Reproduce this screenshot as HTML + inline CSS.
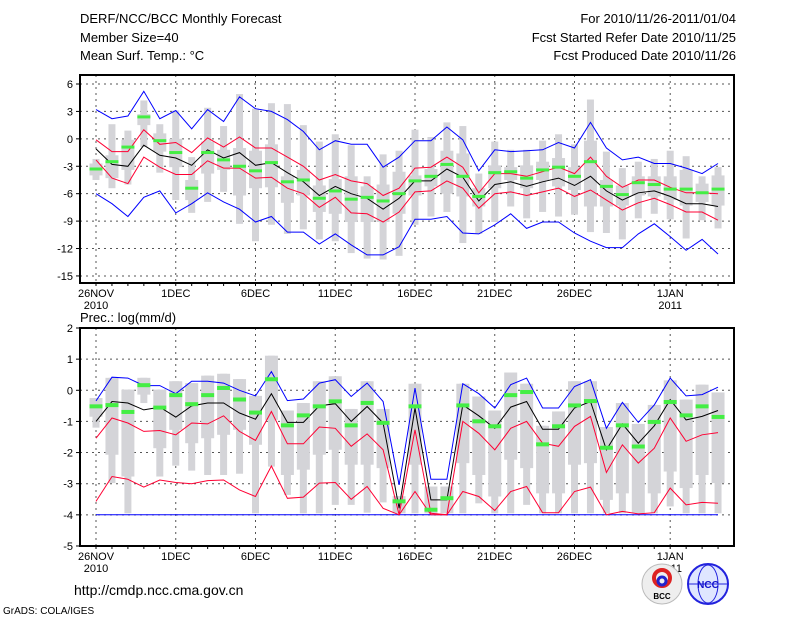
<!DOCTYPE html>
<html><head><meta charset="utf-8"><style>
html,body{margin:0;padding:0;background:#fff;width:800px;height:618px;overflow:hidden}
svg{display:block;font-family:"Liberation Sans",sans-serif}
</style></head><body>
<svg id="chart" width="800" height="618" viewBox="0 0 800 618" xmlns="http://www.w3.org/2000/svg">
<g font-size="13" fill="#000">
<text x="80" y="23">DERF/NCC/BCC Monthly Forecast</text>
<text x="80" y="42">Member Size=40</text>
<text x="80" y="60">Mean Surf. Temp.: °C</text>
<text x="736" y="23" text-anchor="end">For 2010/11/26-2011/01/04</text>
<text x="736" y="42" text-anchor="end">Fcst Started Refer Date 2010/11/25</text>
<text x="736" y="60" text-anchor="end">Fcst Produced Date 2010/11/26</text>
<text x="80" y="322">Prec.: log(mm/d)</text>
</g>
<g id="top"></g>
<g id="bot"></g>
<text x="74" y="595" font-size="14">http://cmdp.ncc.cma.gov.cn</text>
<text x="3" y="614" font-size="10">GrADS: COLA/IGES</text>
<g>
<circle cx="662" cy="584" r="20" fill="#eee" stroke="#bbb"/>
<circle cx="662" cy="578" r="8" fill="none" stroke="#d22" stroke-width="4"/>
<circle cx="662" cy="581" r="4" fill="none" stroke="#22c" stroke-width="3"/>
<text x="662" y="599" font-size="8" text-anchor="middle" font-weight="bold">BCC</text>
</g>
<g>
<circle cx="708" cy="584" r="20" fill="#dfe6ff" stroke="#22d" stroke-width="2"/>
<ellipse cx="708" cy="584" rx="10" ry="19" fill="none" stroke="#22d"/>
<line x1="689" y1="584" x2="727" y2="584" stroke="#22d"/>
<text x="708" y="588" font-size="10" text-anchor="middle" fill="#11c" font-weight="bold">NCC</text>
</g>
</svg>
<script>
// Temperature panel data (40 days from 2010-11-26)
const tBlueHi=[3.2,2.2,2.5,5.2,2.2,3.1,1.1,3.2,1.9,4.6,3.3,3.0,2.1,0.8,-1.2,-0.2,-0.6,-0.6,-3.1,-2.0,-0.2,-0.2,1.3,-0.1,-3.5,-1.2,-1.4,-1.3,-1.2,-0.4,-1.0,1.8,-1.0,-2.3,-2.0,-2.7,-2.7,-3.2,-3.8,-2.7];
const tRedHi=[-0.1,-1.4,-1.4,1.0,-0.6,-0.4,-1.5,0.1,-0.9,0.2,-1.0,-1.0,-2.0,-3.0,-4.5,-3.9,-4.6,-4.9,-6.2,-5.4,-3.2,-3.1,-2.0,-3.1,-5.9,-3.8,-3.8,-4.1,-3.6,-3.1,-3.8,-2.0,-4.1,-5.3,-4.5,-4.5,-5.3,-5.9,-5.9,-6.0];
const tMean=[-1.1,-2.8,-3.0,-0.7,-1.8,-2.1,-2.9,-1.2,-2.1,-1.5,-2.9,-2.6,-3.7,-4.7,-6.2,-5.2,-6.0,-6.5,-7.7,-6.5,-4.6,-4.6,-3.3,-4.2,-6.8,-5.0,-4.7,-5.2,-4.7,-4.3,-5.1,-4.1,-5.7,-6.7,-5.9,-5.7,-6.3,-7.1,-7.1,-7.4];
const tRedLo=[-2.3,-4.3,-4.9,-2.0,-3.1,-3.9,-3.9,-2.4,-3.2,-3.2,-4.3,-4.2,-5.4,-6.0,-7.5,-6.4,-8.1,-8.2,-9.1,-8.0,-5.8,-5.7,-4.6,-5.4,-7.6,-6.0,-5.8,-6.2,-5.8,-5.4,-6.3,-5.6,-6.7,-7.8,-7.0,-6.5,-7.2,-8.0,-8.0,-8.9];
const tBlueLo=[-6.0,-7.1,-8.5,-6.4,-5.7,-8.1,-7.1,-5.9,-6.9,-7.7,-9.1,-8.5,-10.2,-10.2,-11.5,-10.4,-11.6,-12.7,-12.7,-11.8,-8.8,-8.8,-8.5,-10.3,-10.4,-9.4,-8.2,-9.8,-9.1,-9.1,-10.3,-11.2,-11.9,-11.9,-10.4,-9.3,-10.7,-12.2,-11.0,-12.6];
const tGreen=[-3.3,-2.5,-0.9,2.4,-0.2,-1.5,-5.4,-1.5,-2.3,-3.0,-3.5,-2.6,-4.7,-4.5,-6.5,-5.7,-6.6,-6.4,-6.8,-6.0,-4.6,-4.1,-2.8,-4.1,-6.3,-3.7,-3.6,-4.3,-3.4,-3.1,-4.1,-2.5,-5.2,-6.1,-4.8,-5.0,-5.5,-5.5,-5.9,-5.5];
const tOutHi=[-2.2,1.6,0.9,4.2,1.6,3.1,-2.0,3.4,1.4,4.9,3.3,3.9,3.8,1.5,-0.3,0.5,-0.7,-4.1,-1.7,-1.3,1.0,0.2,1.8,1.4,-3.8,-0.3,-1.2,-1.2,-0.2,0.5,-0.6,4.3,-1.4,-3.2,-2.5,-2.2,-1.3,-1.9,-4.1,-3.1];
const tOutLo=[-4.5,-5.4,-5.0,-0.9,-3.7,-6.7,-8.1,-6.9,-5.8,-9.3,-11.2,-9.4,-10.4,-9.9,-11.0,-11.2,-12.5,-13.1,-13.2,-12.8,-9.4,-8.5,-8.0,-11.4,-10.4,-9.1,-7.4,-8.7,-8.0,-8.5,-8.3,-10.2,-10.3,-11.0,-8.7,-8.2,-8.8,-10.9,-8.9,-9.8];
const tBoxHi=[-2.7,-1.8,-0.1,2.7,0.6,0.0,-4.5,-0.3,-1.2,-1.0,-1.3,-0.6,-4.1,-3.4,-5.1,-4.4,-4.1,-5.2,-5.0,-3.6,-4.0,-3.3,-1.3,-1.6,-5.4,-2.9,-3.1,-2.9,-2.5,-2.1,-3.1,-0.2,-4.5,-5.1,-4.1,-4.1,-4.1,-3.4,-4.9,-4.0];
const tBoxLo=[-4.0,-4.3,-3.4,1.5,-1.4,-3.1,-6.7,-3.8,-3.4,-6.2,-5.4,-5.3,-7.0,-6.2,-8.0,-8.2,-9.1,-9.1,-9.1,-8.2,-6.2,-5.2,-6.0,-6.3,-7.4,-5.4,-4.5,-5.4,-4.5,-5.2,-5.6,-7.4,-7.4,-7.3,-6.2,-6.3,-6.7,-7.3,-6.9,-7.3];
const tTicks=[6,3,0,-3,-6,-9,-12,-15];
// Precipitation panel data
const pBlueHi=[-0.34,0.42,0.39,0.15,0.15,-0.11,0.29,0.29,0.23,0.0,-0.18,0.6,-0.33,-0.28,0.23,0.34,-0.2,0.23,-0.36,-3.04,0.07,-2.86,-2.86,0.21,-0.11,-0.57,0.18,0.39,-0.57,-0.57,0.12,0.34,-1.22,-0.39,-1.03,-0.47,0.39,-0.18,-0.14,0.1];
const pMean=[-1.0,-0.36,-0.41,-0.63,-0.54,-0.86,-0.5,-0.41,-0.41,-0.73,-0.93,-0.11,-1.03,-1.03,-0.5,-0.43,-1.0,-0.52,-1.05,-3.79,-0.57,-3.52,-3.52,-0.47,-0.82,-1.22,-0.54,-0.36,-1.25,-1.25,-0.57,-0.36,-1.91,-1.08,-1.7,-1.14,-0.3,-0.95,-0.84,-0.65];
const pRedHi=[-1.54,-0.89,-1.05,-1.32,-1.29,-1.43,-1.05,-1.08,-0.82,-1.32,-1.61,-0.68,-1.72,-1.72,-1.18,-1.22,-1.8,-1.4,-1.91,-4.0,-1.27,-3.95,-4.0,-1.0,-1.38,-1.91,-1.22,-1.0,-1.7,-1.8,-1.16,-0.84,-2.64,-1.75,-2.34,-1.86,-0.89,-1.64,-1.43,-1.36];
const pRedLo=[-3.57,-2.77,-2.86,-3.11,-2.88,-2.96,-3.0,-2.9,-2.88,-3.2,-3.41,-2.43,-3.47,-3.43,-2.98,-2.96,-3.5,-3.09,-3.79,-4.0,-3.25,-4.0,-4.0,-3.25,-3.41,-3.86,-3.25,-3.09,-3.93,-3.93,-3.25,-3.11,-4.0,-3.89,-3.97,-3.93,-3.14,-3.68,-3.6,-3.63];
const pBlueLo=[-4,-4,-4,-4,-4,-4,-4,-4,-4,-4,-4,-4,-4,-4,-4,-4,-4,-4,-4,-4,-4,-4,-4,-4,-4,-4,-4,-4,-4,-4,-4,-4,-4,-4,-4,-4,-4,-4,-4,-4];
const pGreen=[-0.5,-0.46,-0.68,0.18,-0.54,-0.14,-0.43,-0.14,0.09,-0.28,-0.7,0.37,-1.11,-0.79,-0.5,-0.34,-1.11,-0.39,-1.03,-3.55,-0.5,-3.82,-3.45,-0.47,-0.98,-1.14,-0.14,-0.04,-1.72,-1.14,-0.47,-0.33,-1.83,-1.11,-1.79,-1.0,-0.36,-0.79,-0.5,-0.84];
const pOutHi=[-0.25,0.4,0.02,0.4,0.02,0.29,0.23,0.47,0.53,0.36,-0.18,1.11,-0.65,-0.41,0.29,0.45,-0.6,0.29,-0.6,-3.4,0.21,-3.09,-3.09,0.21,-0.2,-0.65,0.57,0.21,-1.14,-0.68,0.29,0.29,-1.18,-0.41,-1.08,-0.47,0.32,-0.3,0.18,-0.07];
const pOutLo=[-1.2,-2.98,-3.95,-0.41,-2.77,-2.42,-2.58,-2.72,-2.72,-2.68,-3.95,-2.45,-3.36,-3.95,-3.95,-3.68,-3.68,-3.93,-3.6,-3.95,-3.95,-3.95,-3.95,-3.95,-3.63,-3.95,-3.95,-3.68,-3.95,-3.95,-3.95,-3.95,-3.95,-3.95,-3.95,-3.95,-3.73,-3.95,-3.95,-3.95];
const pBoxLo=[-0.85,-2.07,-2.77,-0.14,-1.86,-1.27,-1.7,-1.54,-1.43,-1.27,-1.75,-0.95,-2.72,-2.55,-2.07,-1.91,-2.39,-2.39,-2.5,-3.95,-2.39,-3.95,-3.95,-2.34,-2.72,-3.41,-2.23,-2.5,-3.31,-3.31,-2.39,-2.34,-3.52,-3.31,-3.95,-3.31,-2.61,-3.14,-2.72,-2.98];
const pTicks=[2,1,0,-1,-2,-3,-4,-5];
const dayLabels=["26NOV","1DEC","6DEC","11DEC","16DEC","21DEC","26DEC","1JAN"];
const dayLabelIdx=[0,5,10,15,20,25,30,36];
const yearLabels=["2010","","","","","","","2011"];

const NS="http://www.w3.org/2000/svg";
const X0=80,X1=734,DX0=96,DDAY=15.95;
const xDay=i=>DX0+i*DDAY;
function el(p,t,a){const e=document.createElementNS(NS,t);for(const k in a)e.setAttribute(k,a[k]);p.appendChild(e);return e;}
function line(g,arr,y,color,name){
  const pts=arr.map((v,i)=>xDay(i).toFixed(1)+","+y(v).toFixed(1)).join(" ");
  const e=el(g,"polyline",{points:pts,fill:"none",stroke:color,"stroke-width":1});
  
  
}
function panel(g,top,bot,y,ticks,d){
  // grid
  ticks.forEach(t=>{const yy=y(t);
    if(yy>top+1&&yy<bot-1){const l=el(g,"line",{x1:X0,x2:X1,y1:yy,y2:yy,stroke:"#555","stroke-dasharray":"2,4","stroke-width":1});
    
    }
    const tx=el(g,"text",{x:73,y:yy+4,"font-size":11,"text-anchor":"end"});tx.textContent=t;
    
    
    el(g,"line",{x1:X0-4,x2:X0,y1:yy,y2:yy,stroke:"#000"});
  });
  dayLabelIdx.forEach((di,k)=>{const xx=xDay(di);
    const l=el(g,"line",{x1:xx,x2:xx,y1:top,y2:bot,stroke:"#555","stroke-dasharray":"2,4","stroke-width":1});
    
    
    const tx=el(g,"text",{x:xx,y:bot+14,"font-size":11,"text-anchor":"middle"});tx.textContent=dayLabels[k];
    
    
    if(yearLabels[k]){const ty=el(g,"text",{x:xx,y:bot+26,"font-size":11,"text-anchor":"middle"});ty.textContent=yearLabels[k];
    
    }
  });
  for(let i=0;i<40;i++){el(g,"line",{x1:xDay(i),x2:xDay(i),y1:bot,y2:bot+3,stroke:"#000"});}
  // boxes
  for(let i=0;i<40;i++){const xx=xDay(i);
    const o=el(g,"rect",{x:xx-3.5,y:y(d.oh[i]),width:7,height:Math.max(1,y(d.ol[i])-y(d.oh[i])),fill:"#d4d4d8"});
    
    
    const b=el(g,"rect",{x:xx-6.5,y:y(d.bh[i]),width:13,height:Math.max(1,y(d.bl[i])-y(d.bh[i])),fill:"#d4d4d8"});
    
    
  }
  line(g,d.blo,y,"#0000ff","min-line");
  line(g,d.rlo,y,"#ff0033","lower-quantile-line");
  line(g,d.mean,y,"#000","ensemble-mean-line");
  line(g,d.rhi,y,"#ff0033","upper-quantile-line");
  line(g,d.bhi,y,"#0000ff","max-line");
  for(let i=0;i<40;i++){
    const gr=el(g,"rect",{x:xDay(i)-6.5,y:y(d.gr[i])-1.5,width:13,height:d.gh,fill:"#44ee44"});
    
    
  }
  const f=el(g,"rect",{x:X0,y:top,width:X1-X0,height:bot-top,fill:"none",stroke:"#000","stroke-width":2});
  
  
}
const yT=v=>84+(6-v)*9.14;
const yP=v=>328+(2-v)*31.14;
panel(document.getElementById("top"),75,283,yT,tTicks,{oh:tOutHi,ol:tOutLo,bh:tBoxHi,bl:tBoxLo,bhi:tBlueHi,rhi:tRedHi,mean:tMean,rlo:tRedLo,blo:tBlueLo,gr:tGreen,gh:3});
panel(document.getElementById("bot"),328,546,yP,pTicks,{oh:pOutHi,ol:pOutLo,bh:pOutHi,bl:pBoxLo,bhi:pBlueHi,rhi:pRedHi,mean:pMean,rlo:pRedLo,blo:pBlueLo,gr:pGreen,gh:4});
</script>
</body></html>
